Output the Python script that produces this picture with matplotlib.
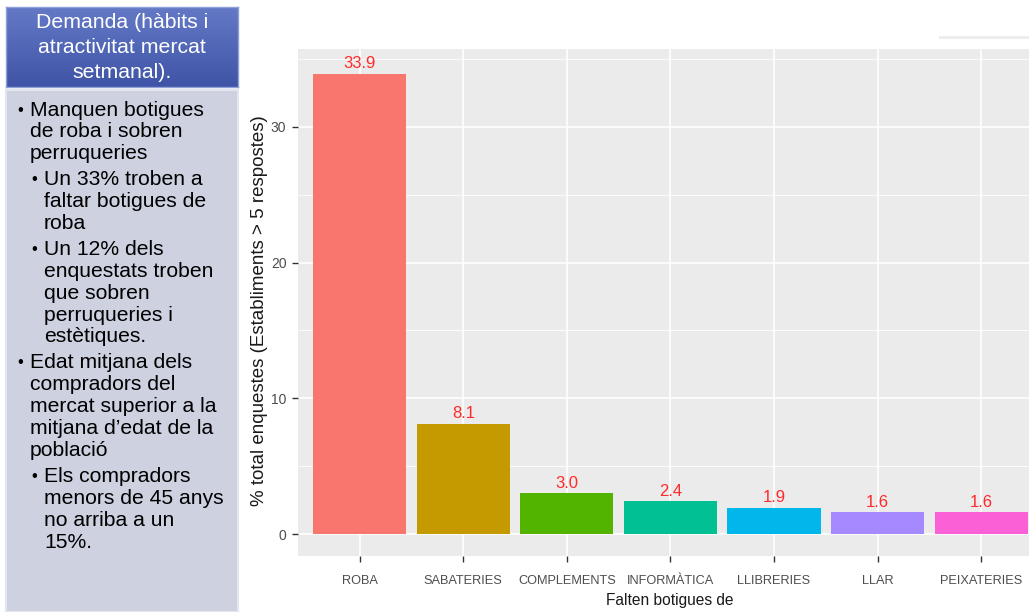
import matplotlib
matplotlib.use("Agg")
import matplotlib.pyplot as plt
import numpy as np
from matplotlib.patches import Rectangle
from matplotlib.colors import LinearSegmentedColormap

categories = ["ROBA", "SABATERIES", "COMPLEMENTS", "INFORMÀTICA", "LLIBRERIES", "LLAR", "PEIXATERIES"]
values = [33.9, 8.1, 3.0, 2.4, 1.9, 1.6, 1.6]
labels = ["33.9", "8.1", "3.0", "2.4", "1.9", "1.6", "1.6"]
colors = ["#F8766D", "#C49A00", "#53B400", "#00C094", "#00B6EB", "#A58AFF", "#FB61D7"]
yticks = [0, 10, 20, 30]

header_lines = ["Demanda (hàbits i", "atractivitat mercat", "setmanal)."]
body = [
    (0, "Manquen botigues", True), (0, "de roba i sobren", False), (0, "perruqueries", False),
    (1, "Un 33% troben a", True), (1, "faltar botigues de", False), (1, "roba", False),
    (1, "Un 12% dels", True), (1, "enquestats troben", False), (1, "que sobren", False),
    (1, "perruqueries i", False), (1, "estètiques.", False),
    (0, "Edat mitjana dels", True), (0, "compradors del", False), (0, "mercat superior a la", False),
    (0, "mitjana d’edat de la", False), (0, "població", False),
    (1, "Els compradors", True), (1, "menors de 45 anys", False), (1, "no arriba a un", False),
    (1, "15%.", False),
]

W, H = 1029, 612
fig = plt.figure(figsize=(W / 100, H / 100), dpi=100)
fig.patch.set_facecolor("white")

def fx(x):
    return x / W

def fy(y):
    return 1 - y / H

sans = ["Liberation Sans", "DejaVu Sans"]

# Left panel: header box with gradient
hax = fig.add_axes([fx(6), fy(87), fx(232), (87 - 7) / H])
grad = np.linspace(0, 1, 100).reshape(-1, 1)
cmap = LinearSegmentedColormap.from_list("hb", ["#6479c6", "#3f54a6"])
hax.imshow(grad, aspect="auto", cmap=cmap, extent=[0, 1, 0, 1], origin="upper")
hax.set_xlim(0, 1); hax.set_ylim(0, 1)
hax.set_xticks([]); hax.set_yticks([])
for s in hax.spines.values():
    s.set_color("#8f9fd8"); s.set_linewidth(1.0)
for i, t in enumerate(header_lines):
    fig.text(fx(122), fy(23 + i * 24.5), t, ha="center", va="center",
             color="white", fontsize=15.3, family=sans)

# Body box
fig.patches.append(Rectangle((fx(6), 0), fx(232), fy(90), transform=fig.transFigure,
                             facecolor="#cdd1e0", edgecolor="#e3e6ef", linewidth=1.5))
yy = 110
nb = 0
for i, (lvl, t, bullet) in enumerate(body):
    if bullet and i > 0:
        nb += 1
    ypos = 110 + i * 21.9 + nb * 4
    tx = 30 if lvl == 0 else 44
    if bullet:
        fig.text(fx(tx - 13), fy(ypos), "•", ha="left", va="center", color="black",
                 fontsize=12, family=sans)
    fig.text(fx(tx), fy(ypos), t, ha="left", va="center", color="black",
             fontsize=15.2, family=sans)

# faint shadow line top-right
fig.add_artist(plt.Line2D([fx(940), fx(1029)], [fy(37), fy(37)], transform=fig.transFigure,
                          color="#ececec", linewidth=2))

# Chart
px_per_unit_x = 103.6
left_px = 297.5
xmin, xmax = 0.4, 7.6
right_px = left_px + (xmax - xmin) * px_per_unit_x
top_px, bot_px = 49, 556
ax = fig.add_axes([fx(left_px), fy(bot_px), (right_px - left_px) / W, (bot_px - top_px) / H])
ax.set_facecolor("#EBEBEB")
ax.set_xlim(xmin, xmax)
ax.set_ylim(-1.62, 35.74)
xs = np.arange(1, len(categories) + 1)
ax.bar(xs, values, width=0.9, color=colors, zorder=3)
for x, v, lab in zip(xs, values, labels):
    ax.annotate(lab, (x, v), xytext=(0, 2), textcoords="offset points", ha="center",
                va="bottom", color="#FF2A2A", fontsize=12, family=sans, zorder=4)
ax.set_xticks(xs)
ax.set_xticklabels(categories, family=sans, fontsize=9.2, color="#4D4D4D")
ax.set_yticks(yticks)
ax.set_yticklabels([str(t) for t in yticks], family=sans, fontsize=10, color="#4D4D4D")
ax.set_yticks([5, 15, 25, 35], minor=True)
ax.grid(True, which="major", color="white", linewidth=1.2, zorder=0)
ax.grid(True, which="minor", axis="y", color="white", linewidth=0.6, zorder=0)
ax.set_axisbelow(True)
ax.tick_params(axis="both", which="major", length=4, width=1.0, color="#333333", pad=4)
ax.tick_params(axis="x", pad=10)
ax.tick_params(axis="y", which="minor", length=0)
for s in ax.spines.values():
    s.set_visible(False)
fig.text(fx(260), fy(311), "% total enquestes (Establiments > 5 respostes)", rotation=90,
         ha="center", va="center", fontsize=13.5, color="#1a1a1a", family=sans)
fig.text(fx(670), fy(600), "Falten botigues de", ha="center", va="center",
         fontsize=11.2, color="#1a1a1a", family=sans)

fig.savefig("out.png", dpi=100, facecolor="white")
